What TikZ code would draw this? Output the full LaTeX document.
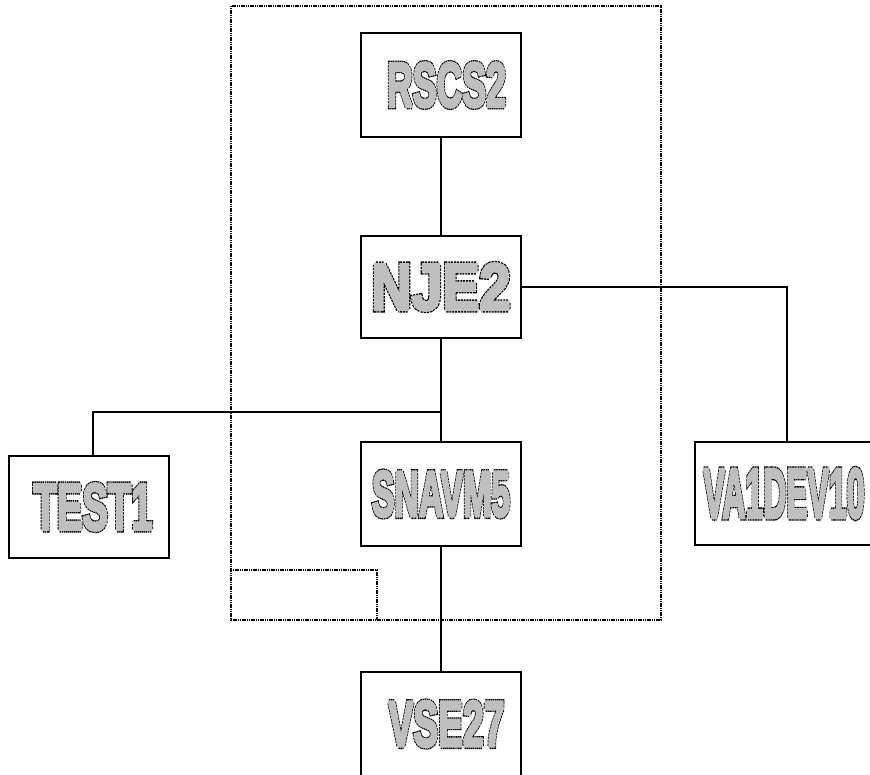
\documentclass[tikz,border=0pt]{standalone}
\usepackage{fontspec}
\setmainfont{Liberation Sans}
\usepackage{graphicx}
\newcommand\outpass[1]{\fontsize{64}{64}\selectfont\bfseries
  \rlap{\special{pdf:literal 1 Tr 5.6 w [2.4 0.9] 0 d 0 G}#1}%
  \special{pdf:literal 2 Tr 3 w [] 0 d 0.75 G 0.75 g}#1%
  \special{pdf:literal 0 Tr [] 0 d 0 g 0 G}}
\newcommand\outtext[3]{\resizebox{#1pt}{#2pt}{\outpass{#3}}}
\begin{document}
\begin{tikzpicture}[x=1pt,y=-1pt,
  box/.style={draw,line width=2pt,minimum width=160pt,minimum height=104pt,inner sep=0pt,fill=white},
  link/.style={line width=1.8pt},
  dots/.style={line width=1.8pt,dash pattern=on 1.2pt off 0.6pt}]
\useasboundingbox (0,0) rectangle (870,774);
\clip (0,0) rectangle (870,774);
% dotted frames
\draw[dots] (231,6) rectangle (661,620);
\draw[dots] (231,570) -- (377,570) -- (377,620);
% nodes
\node[box] (rscs) at (441,85) {\hspace*{11pt}\outtext{119}{44}{RSCS2}};
\node[box,minimum height=102pt] (nje) at (441,287) {\outtext{139}{46}{NJE2}};
\node[box] (snavm) at (441,494) {\outtext{138}{45}{SNAVM5}};
\node[box,minimum height=102pt] (test) at (89,507) {\hspace*{8pt}\outtext{119}{46}{TEST1}};
\node[box,minimum width=184pt,minimum height=103pt] (va) at (787,493.5) {\outtext{161}{49}{VA1DEV10}\hspace*{6pt}};
\node[box] (vse) at (441,724) {\hspace*{11pt}\outtext{116}{45}{VSE27}};
\coordinate (j) at (441,412);
% connectors
\draw[link] (rscs.south) -- (nje.north);
\draw[link] (nje.south) -- (snavm.north);
\draw[link] (nje.east) -| (va.north);
\draw[link] ([xshift=4pt]test.north) |- (j);
\draw[link] (snavm.south) -- (vse.north);
\end{tikzpicture}
\end{document}
